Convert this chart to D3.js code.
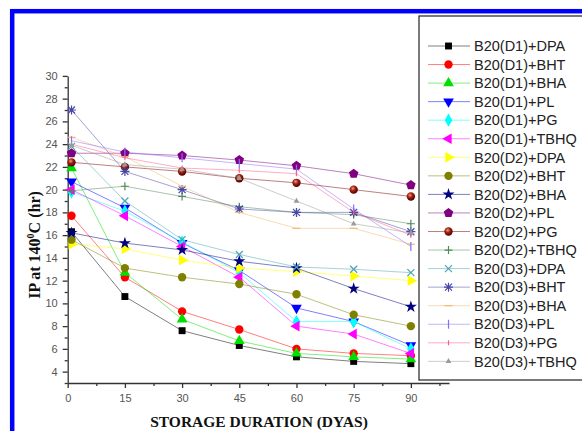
<!DOCTYPE html>
<html>
<head>
<meta charset="utf-8">
<script src="https://cdn.jsdelivr.net/npm/d3@7"></script>
<style>
html, body { margin: 0; padding: 0; background: #fff; }
svg { display: block; }
</style>
</head>
<body>
<svg id="chart" width="582" height="431"></svg>
<script>
// storage days and axis ticks
const days = [1, 15, 30, 45, 60, 75, 90];
const xMajor = [0, 15, 30, 45, 60, 75, 90];
const xMinor = [7.5, 22.5, 37.5, 52.5, 67.5, 82.5, 97.5];
const yMajor = [4, 6, 8, 10, 12, 14, 16, 18, 20, 22, 24, 26, 28, 30];
const yMinor = [3, 5, 7, 9, 11, 13, 15, 17, 19, 21, 23, 25, 27, 29];

// induction period (hr)
const d1DPA  = [16.3, 10.6, 7.6, 6.3, 5.3, 4.9, 4.7];
const d1BHT  = [17.7, 12.3, 9.3, 7.7, 6.0, 5.6, 5.4];
const d1BHA  = [21.9, 12.7, 8.6, 6.7, 5.6, 5.3, 5.1];
const d1PL   = [20.7, 18.4, 15.3, 12.9, 9.6, 8.4, 6.3];
const d1PG   = [19.8, 18.1, 15.4, 12.7, 8.4, 8.4, 6.0];
const d1TBHQ = [20.0, 17.7, 15.0, 12.3, 8.0, 7.3, 5.6];
const d2DPA  = [15.2, 14.8, 13.8, 13.1, 12.8, 12.4, 12.0];
const d2BHT  = [15.6, 13.1, 12.3, 11.7, 10.8, 9.0, 8.0];
const d2BHA  = [16.2, 15.3, 14.7, 13.7, 13.1, 11.3, 9.7];
const d2PL   = [23.2, 23.2, 23.0, 22.6, 22.1, 21.4, 20.4];
const d2PG   = [22.4, 22.0, 21.6, 21.0, 20.6, 20.0, 19.4];
const d2TBHQ = [19.9, 20.3, 19.4, 18.5, 18.0, 17.8, 17.0];
const d3DPA  = [23.8, 19.0, 15.6, 14.3, 13.2, 13.0, 12.7];
const d3BHT  = [27.0, 21.6, 20.0, 18.3, 18.0, 18.0, 16.3];
const d3BHA  = [24.6, 22.9, 20.3, 18.0, 16.6, 16.6, 15.2];
const d3PL   = [24.3, 23.3, 22.8, 22.3, 21.8, 18.3, 15.0];
const d3PG   = [24.0, 22.8, 21.9, 21.7, 21.4, 18.0, 16.0];
const d3TBHQ = [23.9, 22.2, 21.8, 21.0, 19.0, 17.0, 16.2];

const names = ["B20(D1)+DPA", "B20(D1)+BHT", "B20(D1)+BHA", "B20(D1)+PL", "B20(D1)+PG", "B20(D1)+TBHQ",
               "B20(D2)+DPA", "B20(D2)+BHT", "B20(D2)+BHA", "B20(D2)+PL", "B20(D2)+PG", "B20(D2)+TBHQ",
               "B20(D3)+DPA", "B20(D3)+BHT", "B20(D3)+BHA", "B20(D3)+PL", "B20(D3)+PG", "B20(D3)+TBHQ"];
const values = [d1DPA, d1BHT, d1BHA, d1PL, d1PG, d1TBHQ,
                d2DPA, d2BHT, d2BHA, d2PL, d2PG, d2TBHQ,
                d3DPA, d3BHT, d3BHA, d3PL, d3PG, d3TBHQ];

// look of each series
const colors = ["#000000", "#ff0000", "#00e000", "#0000ff", "#00ffff", "#ff00ff",
                "#ffff00", "#808000", "#000080", "#800080", "#800000", "#4f8a55",
                "#4aa3b5", "#4848a8", "#f2b870", "#8a6cff", "#ff5c8a", "#9a9a9a"];
const shapes = ["square", "circle", "triUp", "triDown", "diamond", "triLeft",
                "triRight", "circle", "star", "pentagon", "ball", "plus",
                "x", "asterisk", "dash", "vbar", "smallbar", "smallTri"];

const svg = d3.select("#chart");
const defs = svg.append("defs");
const grad = defs.append("radialGradient").attr("id", "ball")
    .attr("cx", "40%").attr("cy", "35%").attr("r", "65%");
grad.append("stop").attr("offset", "0%").attr("stop-color", "#f0a080");
grad.append("stop").attr("offset", "45%").attr("stop-color", "#a02010");
grad.append("stop").attr("offset", "100%").attr("stop-color", "#500000");

// blue frame
svg.append("rect")
    .attr("x", 12.2).attr("y", 11.2)
    .attr("width", 600).attr("height", 450)
    .attr("fill", "none").attr("stroke", "#0000ff").attr("stroke-width", 4.5);

const x = d3.scaleLinear().domain([0, 100]).range([67.7, 449]);
const y = d3.scaleLinear().domain([3, 30]).range([383, 75.9]);

function pentagon(r) {
  const pts = d3.range(5).map(i => {
    const a = -Math.PI / 2 + i * 2 * Math.PI / 5;
    return [r * Math.cos(a), r * Math.sin(a)];
  });
  return "M" + pts.map(p => p.join(",")).join("L") + "Z";
}

function drawMarker(g, shape, color) {
  const filled = {
    square: d3.symbol(d3.symbolSquare, 48)(),
    circle: d3.symbol(d3.symbolCircle, 55)(),
    ball: d3.symbol(d3.symbolCircle, 55)(),
    triUp: d3.symbol(d3.symbolTriangle, 50)(),
    triDown: d3.symbol(d3.symbolTriangle, 50)(),
    triLeft: d3.symbol(d3.symbolTriangle, 50)(),
    triRight: d3.symbol(d3.symbolTriangle, 50)(),
    diamond: d3.symbol(d3.symbolDiamond, 50)(),
    star: d3.symbol(d3.symbolStar, 45)(),
    pentagon: pentagon(5),
    smallTri: d3.symbol(d3.symbolTriangle, 14)()
  };
  const rot = {triDown: 180, triLeft: -90, triRight: 90};
  const strokes = {
    plus: "M-4,0H4M0,-4V4",
    x: "M-3.5,-3.5L3.5,3.5M-3.5,3.5L3.5,-3.5",
    asterisk: "M-3.5,-3.5L3.5,3.5M-3.5,3.5L3.5,-3.5M-4.5,0H4.5M0,-4.5V4.5",
    dash: "M-4,0H4",
    vbar: "M0,-4.5V4.5",
    smallbar: "M0,-2.5V2.5"
  };
  if (filled[shape]) {
    g.append("path")
        .attr("d", filled[shape])
        .attr("transform", rot[shape] ? `rotate(${rot[shape]})` : null)
        .attr("fill", shape === "ball" ? "url(#ball)" : color);
  } else {
    g.append("path")
        .attr("d", strokes[shape])
        .attr("fill", "none")
        .attr("stroke", color)
        .attr("stroke-width", 1.2);
  }
}

// axes
const tickFont = g => g.selectAll("text")
    .attr("font-family", "Liberation Sans, Arial, sans-serif")
    .attr("font-size", 11).attr("fill", "#555");

const xAxis = svg.append("g").attr("transform", "translate(0,383)")
    .call(d3.axisBottom(x).tickValues(xMajor).tickSize(5).tickPadding(6).tickSizeOuter(0));
svg.append("g").attr("transform", "translate(0,383)")
    .call(d3.axisBottom(x).tickValues(xMinor).tickSize(3).tickFormat("").tickSizeOuter(0))
    .select(".domain").remove();
xAxis.call(tickFont);

const yAxis = svg.append("g").attr("transform", "translate(67.7,0)")
    .call(d3.axisLeft(y).tickValues(yMajor).tickSize(5).tickPadding(5).tickSizeOuter(0));
svg.append("g").attr("transform", "translate(67.7,0)")
    .call(d3.axisLeft(y).tickValues(yMinor).tickSize(3).tickFormat("").tickSizeOuter(0))
    .select(".domain").remove();
yAxis.call(tickFont);

svg.selectAll(".domain, .tick line").attr("stroke", "#333").attr("stroke-width", 1.3);

// lines then markers
const line = d3.line().x((d, i) => x(days[i])).y(d => y(d));
values.forEach((vals, k) => {
  svg.append("path")
      .attr("d", line(vals))
      .attr("fill", "none")
      .attr("stroke", colors[k])
      .attr("stroke-opacity", 0.5)
      .attr("stroke-width", 1);
});
values.forEach((vals, k) => {
  vals.forEach((v, i) => {
    const g = svg.append("g").attr("transform", `translate(${x(days[i])},${y(v)})`);
    drawMarker(g, shapes[k], colors[k]);
  });
});

// axis titles
svg.append("text")
    .attr("x", 259).attr("y", 427)
    .attr("text-anchor", "middle")
    .attr("font-family", "Liberation Serif, Times New Roman, serif")
    .attr("font-weight", "bold").attr("font-size", 15.5).attr("fill", "#111")
    .text("STORAGE DURATION (DYAS)");

const yt = svg.append("text")
    .attr("transform", "translate(40,245) rotate(-90)")
    .attr("text-anchor", "middle")
    .attr("font-family", "Liberation Serif, Times New Roman, serif")
    .attr("font-weight", "bold").attr("font-size", 16).attr("fill", "#111");
yt.append("tspan").text("IP at 140");
yt.append("tspan").attr("font-size", 10).attr("dy", -6).text("0");
yt.append("tspan").attr("dy", 6).text("C (hr)");

// legend
const legend = svg.append("g").attr("transform", "translate(419,16)");
legend.append("rect")
    .attr("width", 200).attr("height", 364)
    .attr("fill", "#fff").attr("stroke", "#222").attr("stroke-width", 1.2);

names.forEach((name, k) => {
  const ly = 30 + k * 18.55;
  const g = legend.append("g").attr("transform", `translate(0,${ly})`);
  g.append("line")
      .attr("x1", 9).attr("x2", 51).attr("y1", 0).attr("y2", 0)
      .attr("stroke", colors[k]).attr("stroke-opacity", 0.5).attr("stroke-width", 1);
  const m = g.append("g").attr("transform", "translate(29.5,0)");
  drawMarker(m, shapes[k], colors[k]);
  g.append("text")
      .attr("x", 55).attr("y", 0).attr("dy", "0.36em")
      .attr("font-family", "Liberation Sans, Arial, sans-serif")
      .attr("font-size", 14.5).attr("fill", "#222")
      .text(name);
});
</script>
</body>
</html>
